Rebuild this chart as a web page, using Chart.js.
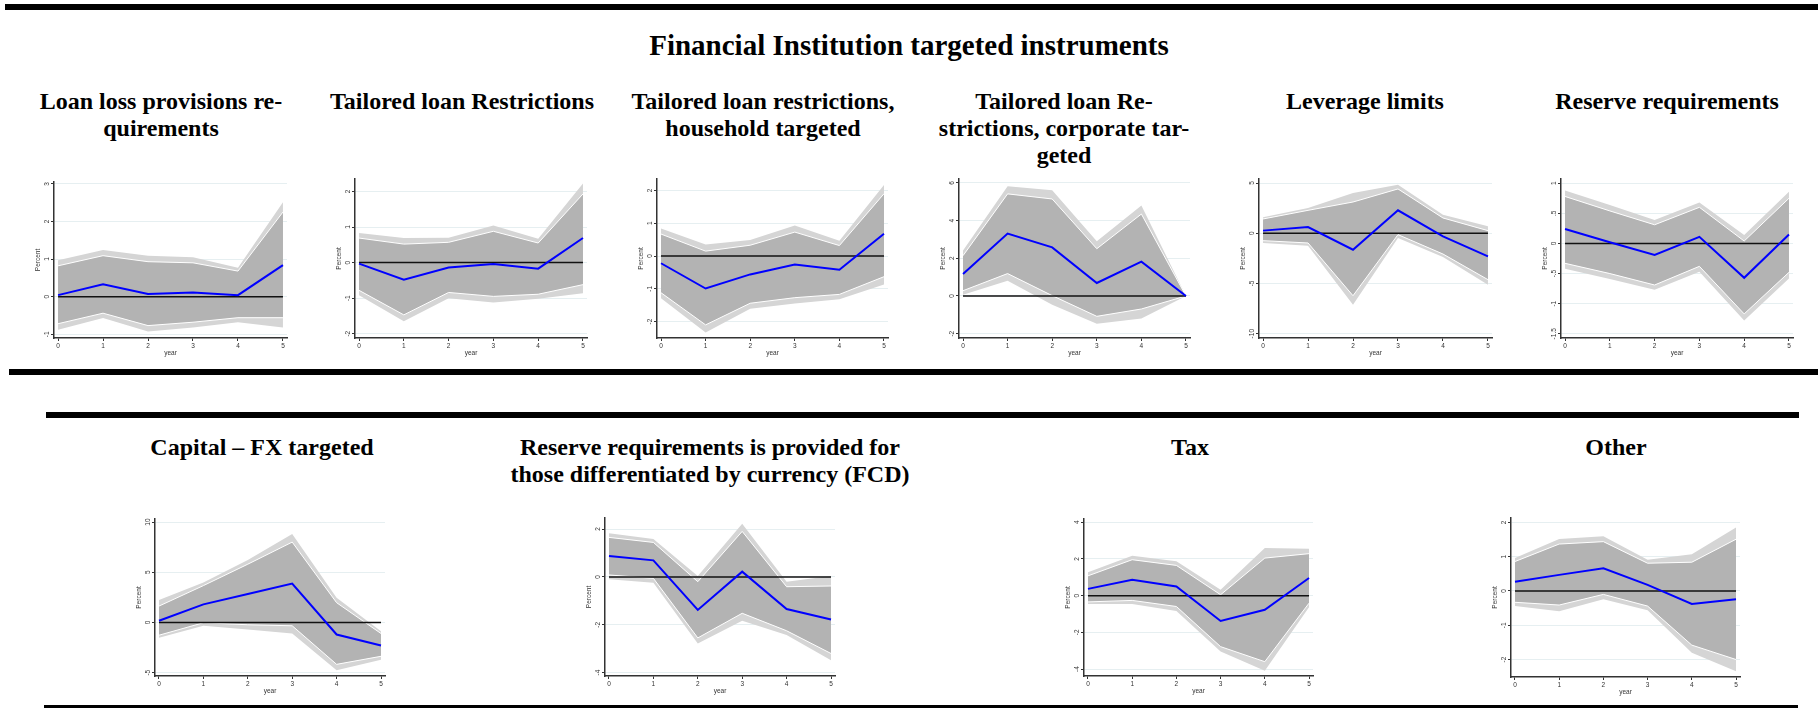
<!DOCTYPE html>
<html>
<head>
<meta charset="utf-8">
<script src="https://cdn.jsdelivr.net/npm/chart.js@4.4.0/dist/chart.umd.min.js"></script>
<style>
  body { margin: 0; background: #fff; width: 1818px; height: 709px; overflow: hidden; position: relative;
         font-family: "Liberation Serif", "Times New Roman", serif; }
  .rule { position: absolute; background: #000; }
  .ttl { position: absolute; text-align: center; font-weight: bold; font-size: 24px; line-height: 27px;
         color: #000; white-space: nowrap; }
  .main { position: absolute; left: 0; width: 1818px; text-align: center; font-weight: bold;
          font-size: 29px; line-height: 32px; top: 29px; }
  .box { position: absolute; }
</style>
</head>
<body>

<div class="rule" style="left:5px;top:4px;width:1813px;height:6px"></div>
<div class="rule" style="left:9px;top:369px;width:1809px;height:6px"></div>
<div class="rule" style="left:46px;top:412px;width:1753px;height:6px"></div>
<div class="rule" style="left:44px;top:705px;width:1754px;height:3px"></div>

<div class="main">Financial Institution targeted instruments</div>

<div id="titles"></div>
<div id="panels"></div>

<script>
// horizon (years after the change)
const years = [0, 1, 2, 3, 4, 5];

// Loan loss provisions requirements
const llpMid   = [0.04, 0.33, 0.07, 0.11, 0.04, 0.84];
const llpIn    = [[-0.72, -0.44, -0.77, -0.68, -0.56, -0.56], [0.82, 1.09, 0.93, 0.90, 0.68, 2.25]];
const llpOut   = [[-0.88, -0.57, -0.93, -0.82, -0.68, -0.82], [0.97, 1.24, 1.09, 1.05, 0.77, 2.51]];
const llpTicks = [-1, 0, 1, 2, 3];

// Tailored loan restrictions
const tlrMid   = [-0.03, -0.48, -0.14, -0.04, -0.17, 0.69];
const tlrIn    = [[-0.78, -1.47, -0.84, -0.95, -0.89, -0.62], [0.69, 0.52, 0.57, 0.88, 0.55, 1.93]];
const tlrOut   = [[-0.92, -1.65, -1.00, -1.12, -1.02, -0.86], [0.83, 0.69, 0.70, 1.04, 0.67, 2.22]];
const tlrTicks = [-2, -1, 0, 1, 2];

// Tailored loan restrictions, household targeted
const hhMid    = [-0.22, -0.99, -0.56, -0.26, -0.42, 0.68];
const hhIn     = [[-1.12, -2.10, -1.44, -1.27, -1.17, -0.63], [0.67, 0.15, 0.33, 0.73, 0.32, 1.90]];
const hhOut    = [[-1.29, -2.33, -1.61, -1.45, -1.32, -0.87], [0.84, 0.35, 0.49, 0.93, 0.47, 2.17]];
const hhTicks  = [-2, -1, 0, 1, 2];

// Tailored loan restrictions, corporate targeted
const corpMid   = [1.17, 3.31, 2.58, 0.69, 1.82, 0];
const corpIn    = [[0.28, 1.19, 0.02, -1.08, -0.69, 0], [2.14, 5.42, 5.15, 2.51, 4.35, 0]];
const corpOut   = [[0.07, 0.81, -0.46, -1.47, -1.19, 0], [2.42, 5.82, 5.61, 2.90, 4.80, 0]];
const corpTicks = [-2, 0, 2, 4, 6];

// Leverage limits
const levMid   = [0.26, 0.62, -1.64, 2.28, -0.31, -2.30];
const levIn    = [[-0.74, -0.97, -6.22, -0.14, -2.07, -4.62], [1.42, 2.28, 3.11, 4.41, 1.52, 0.26]];
const levOut   = [[-0.97, -1.24, -7.12, -0.47, -2.37, -5.12], [1.58, 2.51, 4.00, 4.83, 1.85, 0.69]];
const levTicks = [-10, -5, 0, 5];

// Reserve requirements
const rrMid   = [0.24, 0.02, -0.19, 0.11, -0.57, 0.15];
const rrIn    = [[-0.33, -0.50, -0.69, -0.38, -1.17, -0.48], [0.78, 0.54, 0.31, 0.60, 0.04, 0.75]];
const rrOut   = [[-0.42, -0.59, -0.77, -0.47, -1.28, -0.58], [0.88, 0.64, 0.39, 0.68, 0.14, 0.86]];
const rrTicks = [-1.5, -1, -0.5, 0, 0.5, 1];

// Capital - FX targeted
const fxMid   = [0.17, 1.80, 2.83, 3.87, -1.20, -2.30];
const fxIn    = [[-1.27, -0.03, -0.23, -0.33, -4.17, -3.37], [1.63, 3.67, 5.80, 8.00, 1.97, -1.10]];
const fxOut   = [[-1.53, -0.33, -0.70, -1.10, -4.77, -3.70], [2.23, 3.97, 6.23, 8.80, 2.47, -0.87]];
const fxTicks = [-5, 0, 5, 10];

// Reserve requirements differentiated by currency (FCD)
const fcdMid   = [0.87, 0.69, -1.38, 0.22, -1.34, -1.78];
const fcdIn    = [[0.08, -0.06, -2.55, -1.52, -2.25, -3.20], [1.65, 1.44, -0.20, 1.90, -0.41, -0.38]];
const fcdOut   = [[-0.10, -0.24, -2.78, -1.83, -2.43, -3.48], [1.82, 1.58, 0.04, 2.22, -0.20, 0.04]];
const fcdTicks = [-4, -2, 0, 2];

// Tax
const taxMid   = [0.37, 0.87, 0.50, -1.38, -0.77, 0.96];
const taxIn    = [[-0.34, -0.26, -0.59, -2.78, -3.60, -0.41], [1.08, 1.96, 1.65, 0.05, 2.05, 2.29]];
const taxOut   = [[-0.46, -0.45, -0.83, -3.05, -4.09, -0.63], [1.27, 2.18, 1.87, 0.32, 2.60, 2.56]];
const taxTicks = [-4, -2, 0, 2, 4];

// Other
const othMid   = [0.27, 0.47, 0.66, 0.18, -0.38, -0.24];
const othIn    = [[-0.33, -0.41, -0.10, -0.44, -1.58, -2.00], [0.86, 1.37, 1.44, 0.81, 0.84, 1.51]];
const othOut   = [[-0.44, -0.59, -0.24, -0.56, -1.80, -2.34], [0.96, 1.52, 1.60, 0.91, 1.07, 1.85]];
const othTicks = [-2, -1, 0, 1, 2];

// panel layout: y-axis x, plot top, x-axis y, plot right, y range
const panels = [
  { title: ['Loan loss provisions re-', 'quirements'], cx: 161, ty: 88,
    mid: llpMid, inner: llpIn, outer: llpOut, ticks: llpTicks, range: [-1.10, 3.05],
    ax: 54, top: 182, bottom: 338, right: 287 },
  { title: ['Tailored loan Restrictions'], cx: 462, ty: 88,
    mid: tlrMid, inner: tlrIn, outer: tlrOut, ticks: tlrTicks, range: [-2.12, 2.35],
    ax: 355, top: 179, bottom: 338, right: 587 },
  { title: ['Tailored loan restrictions,', 'household targeted'], cx: 763, ty: 88,
    mid: hhMid, inner: hhIn, outer: hhOut, ticks: hhTicks, range: [-2.50, 2.35],
    ax: 657, top: 179, bottom: 338, right: 888 },
  { title: ['Tailored loan Re-', 'strictions, corporate tar-', 'geted'], cx: 1064, ty: 88,
    mid: corpMid, inner: corpIn, outer: corpOut, ticks: corpTicks, range: [-2.23, 6.21],
    ax: 959, top: 179, bottom: 338, right: 1190 },
  { title: ['Leverage limits'], cx: 1365, ty: 88,
    mid: levMid, inner: levIn, outer: levOut, ticks: levTicks, range: [-10.43, 5.40],
    ax: 1259, top: 179, bottom: 338, right: 1492 },
  { title: ['Reserve requirements'], cx: 1667, ty: 88,
    mid: rrMid, inner: rrIn, outer: rrOut, ticks: rrTicks, range: [-1.57, 1.07],
    ax: 1561, top: 179, bottom: 338, right: 1793 },
  { title: ['Capital \u2013 FX targeted'], cx: 262, ty: 434,
    mid: fxMid, inner: fxIn, outer: fxOut, ticks: fxTicks, range: [-5.33, 10.30],
    ax: 155, top: 519, bottom: 676, right: 385 },
  { title: ['Reserve requirements is provided for', 'those differentiated by currency (FCD)'], cx: 710, ty: 434,
    mid: fcdMid, inner: fcdIn, outer: fcdOut, ticks: fcdTicks, range: [-4.14, 2.46],
    ax: 605, top: 518, bottom: 676, right: 835 },
  { title: ['Tax'], cx: 1190, ty: 434,
    mid: taxMid, inner: taxIn, outer: taxOut, ticks: taxTicks, range: [-4.38, 4.18],
    ax: 1084, top: 519, bottom: 676, right: 1313 },
  { title: ['Other'], cx: 1616, ty: 434,
    mid: othMid, inner: othIn, outer: othOut, ticks: othTicks, range: [-2.51, 2.13],
    ax: 1511, top: 518, bottom: 677, right: 1740 }
];

const SANS = '"Liberation Sans", Arial, sans-serif';
const fmt = v => String(v).replace(/^(-?)0\./, '$1.');
const pts = arr => years.map((x, i) => ({ x: x, y: arr[i] }));

// vertical tick labels on the y axis, Stata style
const verticalYLabels = {
  id: 'verticalYLabels',
  afterDraw(chart) {
    const ys = chart.scales.y, ctx = chart.ctx;
    ctx.save();
    ctx.font = '6.5px ' + SANS;
    ctx.fillStyle = '#333';
    ctx.textAlign = 'center';
    ctx.textBaseline = 'middle';
    ys.ticks.forEach(t => {
      ctx.save();
      ctx.translate(chart.chartArea.left - 7, ys.getPixelForValue(t.value));
      ctx.rotate(-Math.PI / 2);
      ctx.fillText(fmt(t.value), 0, 0);
      ctx.restore();
    });
    ctx.restore();
  }
};

const titles = document.getElementById('titles');
const holder = document.getElementById('panels');

panels.forEach((p, k) => {
  const t = document.createElement('div');
  t.className = 'ttl';
  t.style.left = (p.cx - 300) + 'px';
  t.style.width = '600px';
  t.style.top = p.ty + 'px';
  t.innerHTML = p.title.join('<br>');
  titles.appendChild(t);

  const W = p.right - p.ax + 26, H = p.bottom - p.top + 24;
  const box = document.createElement('div');
  box.className = 'box';
  box.style.left = (p.ax - 22) + 'px';
  box.style.top = (p.top - 4) + 'px';
  const cv = document.createElement('canvas');
  cv.width = W; cv.height = H;
  cv.style.width = W + 'px'; cv.style.height = H + 'px';
  box.appendChild(cv);
  holder.appendChild(box);

  new Chart(cv, {
    type: 'line',
    data: {
      datasets: [
        { data: pts(p.outer[1]), fill: { target: 1 }, backgroundColor: '#d5d5d5',
          borderColor: 'rgba(0,0,0,0)', borderWidth: 1, order: 5 },
        { data: pts(p.outer[0]), fill: false, borderColor: 'rgba(0,0,0,0)', borderWidth: 1, order: 4 },
        { data: pts(p.inner[1]), fill: { target: 3 }, backgroundColor: '#b3b3b3',
          borderColor: '#ffffff', borderWidth: 1, order: 3 },
        { data: pts(p.inner[0]), fill: false, borderColor: '#ffffff', borderWidth: 1, order: 2 },
        { data: pts(years.map(() => 0)), fill: false, borderColor: '#111', borderWidth: 1.5, order: 1 },
        { data: pts(p.mid), fill: false, borderColor: '#0000ff', borderWidth: 2, order: 0 }
      ]
    },
    options: {
      responsive: false,
      animation: false,
      events: [],
      elements: { point: { radius: 0 }, line: { tension: 0 } },
      layout: { padding: { left: 2, top: 4, right: 4, bottom: 1 } },
      plugins: { legend: { display: false }, tooltip: { enabled: false } },
      scales: {
        x: {
          type: 'linear', min: -0.09, max: 5.09,
          afterBuildTicks: s => { s.ticks = years.map(v => ({ value: v })); },
          afterFit: s => { s.height = 19; },
          grid: { drawOnChartArea: false, drawTicks: true, tickLength: 3, tickColor: '#333', tickWidth: 1 },
          border: { display: true, color: '#333', width: 1.5 },
          ticks: { font: { size: 6.5, family: SANS }, color: '#333', padding: 1, maxRotation: 0, autoSkip: false },
          title: { display: true, text: 'year', font: { size: 6.5, family: SANS }, color: '#333', padding: 0 }
        },
        y: {
          type: 'linear', min: p.range[0], max: p.range[1],
          afterBuildTicks: s => { s.ticks = p.ticks.map(v => ({ value: v })); },
          afterFit: s => { s.width = 20; },
          grid: { color: '#e6eff1', lineWidth: 1, tickLength: 3, tickColor: '#333', tickWidth: 1 },
          border: { display: true, color: '#333', width: 1.5 },
          ticks: { display: false },
          title: { display: true, text: 'Percent', font: { size: 6.5, family: SANS }, color: '#333', padding: 0 }
        }
      }
    },
    plugins: [verticalYLabels]
  });
});
</script>
</body>
</html>
